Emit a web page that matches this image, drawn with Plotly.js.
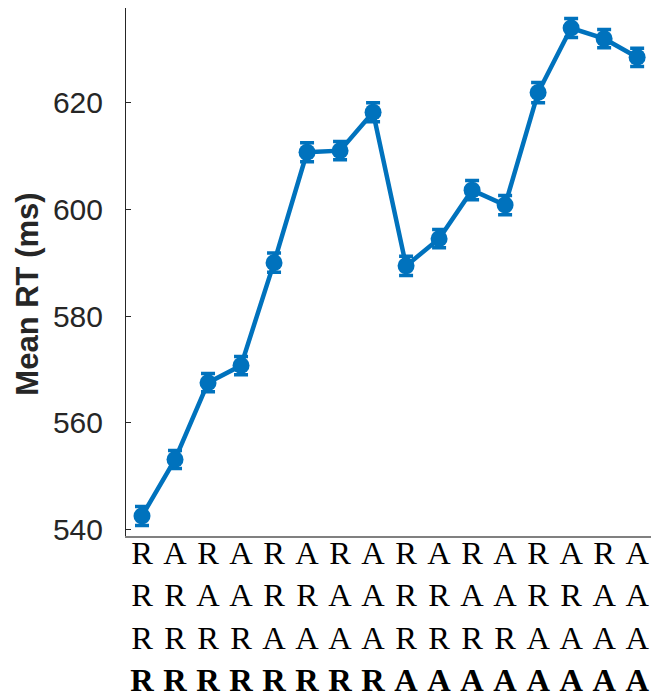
<!DOCTYPE html>
<html>
<head>
<meta charset="utf-8">
<script src="https://cdn.plot.ly/plotly-3.0.1.min.js"></script>
<style>html,body{margin:0;padding:0;background:#fff;}#chart{width:651px;height:698px;}</style>
</head>
<body>
<div id="chart"></div>
<script>
// Sequence categories (rows of the tick label, top to bottom; last row is bold)
var row1 = ["R","A","R","A","R","A","R","A","R","A","R","A","R","A","R","A"];
var row2 = ["R","R","A","A","R","R","A","A","R","R","A","A","R","R","A","A"];
var row3 = ["R","R","R","R","A","A","A","A","R","R","R","R","A","A","A","A"];
var row4 = ["R","R","R","R","R","R","R","R","A","A","A","A","A","A","A","A"];

// Mean RT (ms) and its error (ms)
var meanRT = [542.5, 553.1, 567.5, 570.7, 590.0, 610.7, 611.0, 618.2, 589.4, 594.5, 603.6, 600.8, 621.9, 634.0, 632.0, 628.5];
var errRT  = [1.8, 1.7, 1.7, 1.7, 1.8, 1.8, 1.7, 1.8, 1.8, 1.7, 1.8, 1.8, 1.9, 1.8, 1.7, 1.7];

var yTicks = [540, 560, 580, 600, 620];

var idx = row1.map(function(_, i){ return i; });
var tickText = row1.map(function(_, i){
  return row1[i] + "<br>" + row2[i] + "<br>" + row3[i] + "<br><b>" + row4[i] + "</b>";
});

var blue = "#0072BD";
var trace = {
  x: idx,
  y: meanRT,
  type: "scatter",
  mode: "lines+markers",
  line: {color: blue, width: 4.5},
  marker: {color: blue, size: 17, symbol: "circle"},
  error_y: {type: "data", array: errRT, visible: true, color: blue, thickness: 3.5, width: 7},
  hoverinfo: "skip",
  showlegend: false
};

var layout = {
  width: 651,
  height: 698,
  margin: {l: 126, r: 0, t: 8, b: 162, pad: 0},
  paper_bgcolor: "#ffffff",
  plot_bgcolor: "#ffffff",
  showlegend: false,
  xaxis: {
    range: [-0.485, 15.42],
    tickmode: "array",
    tickvals: idx,
    ticktext: tickText,
    ticks: "",
    showgrid: false,
    zeroline: false,
    showline: true,
    linecolor: "#808080",
    linewidth: 2,
    tickfont: {family: "Liberation Serif, serif", size: 32.5, color: "#000000"},
    ticklabelstandoff: -13,
    fixedrange: true
  },
  yaxis: {
    range: [538.75, 637.75],
    tickmode: "array",
    tickvals: yTicks,
    ticktext: yTicks.map(String),
    ticks: "inside",
    ticklen: 5,
    tickwidth: 1,
    tickcolor: "#262626",
    showgrid: false,
    zeroline: false,
    showline: true,
    linecolor: "#262626",
    linewidth: 1,
    tickfont: {family: "Liberation Sans, Arial, sans-serif", size: 30, color: "#262626"},
    ticklabelstandoff: 16,
    fixedrange: true
  },
  annotations: [{
    text: "<b>Mean RT (ms)</b>",
    xref: "paper", yref: "paper",
    x: -0.1867, y: 0.459,
    xanchor: "center", yanchor: "middle",
    textangle: -90,
    showarrow: false,
    font: {family: "Liberation Sans, Arial, sans-serif", size: 31, color: "#262626"}
  }]
};

Plotly.newPlot("chart", [trace], layout, {displayModeBar: false, staticPlot: true});
</script>
</body>
</html>
